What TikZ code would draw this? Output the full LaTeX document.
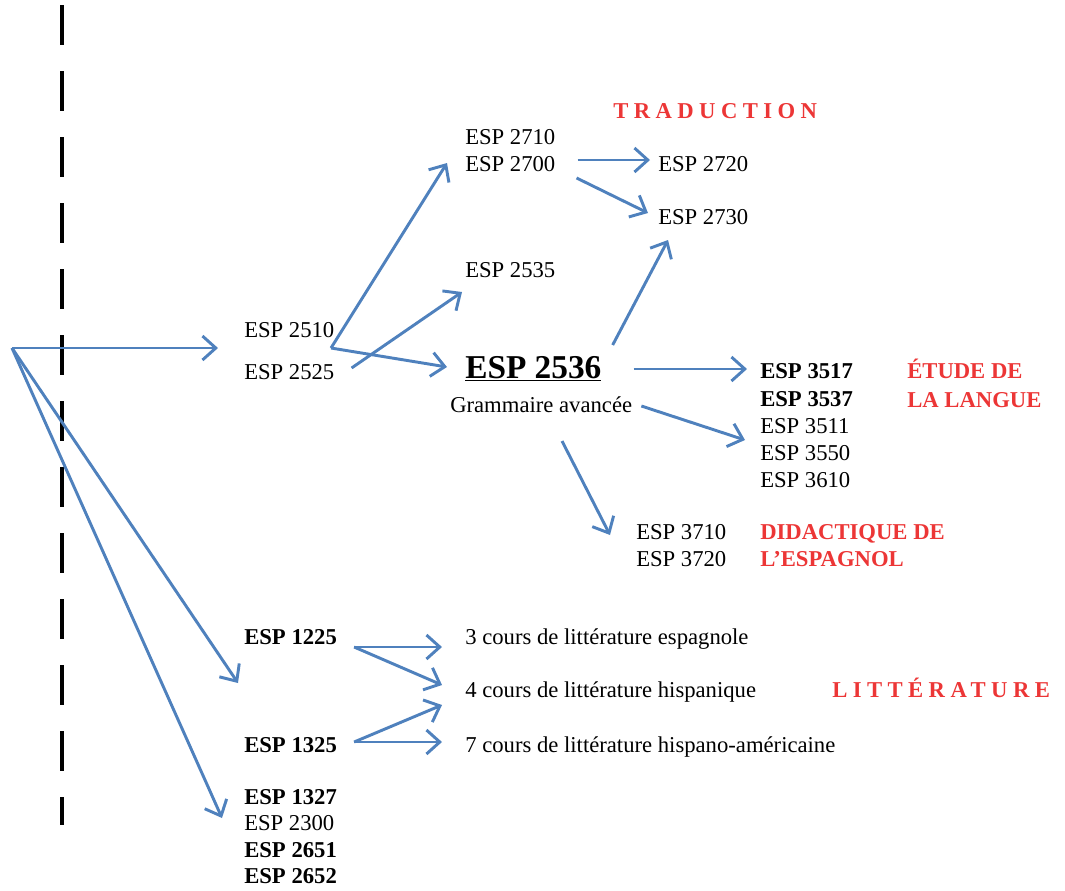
\documentclass[tikz,border=0pt]{standalone}
\usepackage{fontspec}
\setmainfont{Liberation Serif}
\newfontfamily\spacedfont[LetterSpace=24]{Liberation Serif}
\usetikzlibrary{arrows.meta,calc}
\definecolor{arrowblue}{RGB}{79,129,189}
\definecolor{labelred}{RGB}{236,54,54}
\begin{document}
\begin{tikzpicture}[x=0.75pt,y=-0.75pt,
  course/.style={anchor=west,inner sep=0pt,text height=11.5pt,text depth=0pt,font=\fontsize{17}{20}\selectfont},
  bcourse/.style={course,font=\fontsize{17}{20}\selectfont\bfseries},
  area/.style={course,text=labelred,font=\fontsize{17}{20}\selectfont\bfseries},
  spacedarea/.style={anchor=west,inner sep=0pt,text height=11.5pt,text depth=0pt,text=labelred,font=\spacedfont\fontsize{17}{20}\selectfont\bfseries},
  link/.style={draw=arrowblue,line width=2.2pt,-{Straight Barb[length=10pt,width=18pt,line width=2.2pt]}},
  divider/.style={draw=black,line width=2.4pt,dash pattern=on 30pt off 19.5pt}]
\useasboundingbox (0,0) rectangle (1065,890);
% divider
\coordinate (dtop) at (62,5);
\coordinate (dbot) at (62,825);
\draw[divider] (dtop) -- (dbot);
% nodes
\coordinate (origin) at (12,348);
\node[course] (e2510) at (244,330) {ESP 2510};
\node[course] (e2525) at (244,372) {ESP 2525};
\coordinate (j) at (331,348);
\node[course] (e2710) at (465,137) {ESP 2710};
\node[course] (e2700) at (465,164) {ESP 2700};
\node[course] (e2720) at (658,164) {ESP 2720};
\node[course] (e2730) at (658,217) {ESP 2730};
\node[course] (e2535) at (465,270) {ESP 2535};
\node[anchor=west,inner sep=0pt,text height=17pt,text depth=0pt,font=\fontsize{25}{28}\selectfont\bfseries] (e2536) at (465,367) {\underline{ESP 2536}};
\node[course] (gram) at (450,405) {Grammaire avancée};
\node[bcourse] (e3517) at (760,371) {ESP 3517};
\node[bcourse] (e3537) at (760,399) {ESP 3537};
\node[course] (e3511) at (760,426) {ESP 3511};
\node[course] (e3550) at (760,453) {ESP 3550};
\node[course] (e3610) at (760,480) {ESP 3610};
\node[area] (etude) at (907,371) {ÉTUDE DE};
\node[area] (langue) at (907,400) {LA LANGUE};
\node[course] (e3710) at (636,532) {ESP 3710};
\node[course] (e3720) at (636,559) {ESP 3720};
\node[area] (didac) at (760,532) {DIDACTIQUE DE};
\node[area] (espagnol) at (760,559) {L’ESPAGNOL};
\node[spacedarea] (trad) at (613,111) {TRADUCTION};
\node[bcourse] (e1225) at (244,637) {ESP 1225};
\node[course] (lit1) at (465,637) {3 cours de littérature espagnole};
\node[course] (lit2) at (465,690) {4 cours de littérature hispanique};
\node[course] (lit3) at (465,745) {7 cours de littérature hispano-américaine};
\node[bcourse] (e1325) at (244,745) {ESP 1325};
\node[spacedarea] (litt) at (832,690) {LITTÉRATURE};
\node[bcourse] (e1327) at (244,797) {ESP 1327};
\node[course] (e2300) at (244,823) {ESP 2300};
\node[bcourse] (e2651) at (244,850) {ESP 2651};
\node[bcourse] (e2652) at (244,876) {ESP 2652};
% connectors
\draw[link] (origin) -- ($(e2510.west)!.5!(e2525.west)+(-26,-3)$);
\draw[link] (origin) -- ($(e1225.west)!.5!(e1325.west)+(-6,-8)$);
\draw[link] (origin) -- ($(e2300.west)+(-22,-5)$);
\draw[link] (j) -- ($(e2700.west)+(-18,-1)$);
\draw[link] (j) -- ($(e2536.west)+(-18,0)$);
\draw[link] ($(e2525.east)+(17,-4)$) -- ($(e2535.west)+(-3,22)$);
\draw[link] ($(e2700.east)+(22,-4)$) -- ($(e2720.west)+(-8,-4)$);
\draw[link] ($(e2700.east)+(21,14)$) -- ($(e2730.west)+(-10,-4)$);
\draw[link] ($(e2536.east)+(11,-22)$) -- ($(e2730.west)+(10,23)$);
\draw[link] ($(e2536.east)+(32,2)$) -- ($(e3517.west)+(-13,-2)$);
\draw[link] ($(gram.east)+(9,1)$) -- ($(e3511.west)+(-15,14)$);
\draw[link] ($(gram.west)+(112,36)$) -- ($(e3710.west)+(-26,3)$);
\draw[link] ($(e1225.east)+(17,10)$) -- ($(lit1.west)+(-23,10)$);
\draw[link] ($(e1225.east)+(17,10)$) -- ($(lit2.west)+(-23,-5)$);
\draw[link] ($(e1325.east)+(17,-3)$) -- ($(lit2.west)+(-23,15)$);
\draw[link] ($(e1325.east)+(17,-3)$) -- ($(lit3.west)+(-23,-3)$);
\end{tikzpicture}
\end{document}
